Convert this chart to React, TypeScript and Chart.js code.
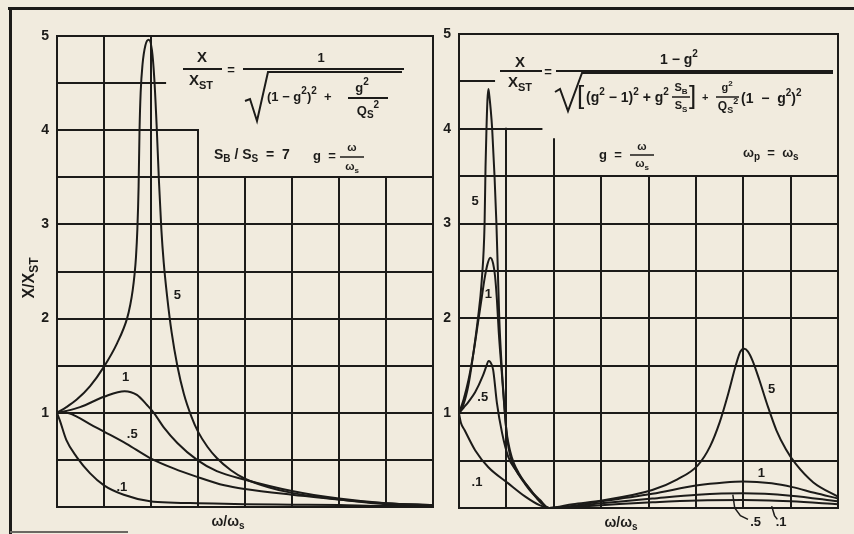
import { useEffect, useRef } from 'react';
import { Chart, registerables } from 'chart.js';

Chart.register(...registerables);

const INK = '#1c1b19';
const PAPER = '#f1ebde';
const FONT = '"Liberation Sans", "DejaVu Sans", sans-serif';

// Shared axes: g = ω/ωs along x (0..4), X/XST along y (0..5)
const xMin = 0;
const xMax = 4;
const yMin = 0;
const yMax = 5;
const yTickValues = [1, 2, 3, 4, 5];
const yTickLabels = ['1', '2', '3', '4', '5'];

// ---- Left panel: X/XST = 1 / sqrt((1-g²)² + g²/Qs²), one curve per Qs
const leftQ5G = [0, 0.1, 0.21, 0.35, 0.5, 0.64, 0.745, 0.78, 0.805, 0.825, 0.84, 0.855, 0.868, 0.878, 0.89, 0.91, 0.94, 0.975, 1.01, 1.035, 1.06, 1.085, 1.11, 1.135, 1.17, 1.22, 1.28, 1.35, 1.43, 1.5, 1.6, 1.7, 1.85, 2.0, 2.25, 2.5, 3.0, 3.5, 4.0];
const leftQ5V = [1, 1.06, 1.14, 1.28, 1.49, 1.74, 2.0, 2.15, 2.3, 2.47, 2.65, 2.95, 3.4, 4.0, 4.4, 4.7, 4.9, 4.96, 4.85, 4.55, 4.05, 3.45, 2.95, 2.6, 2.25, 1.85, 1.5, 1.2, 0.96, 0.8, 0.64, 0.52, 0.39, 0.3, 0.21, 0.15, 0.08, 0.04, 0.02];
const leftQ1G = [0, 0.1, 0.245, 0.5, 0.72, 0.85, 0.96, 1.03, 1.14, 1.28, 1.49, 1.7, 2.0, 2.5, 3.0, 3.5, 4.0];
const leftQ1V = [1, 1.02, 1.06, 1.17, 1.23, 1.19, 1.08, 1.0, 0.84, 0.68, 0.5, 0.38, 0.29, 0.17, 0.09, 0.04, 0.02];
const leftQ05G = [0, 0.1, 0.21, 0.35, 0.5, 0.74, 0.99, 1.24, 1.49, 1.78, 2.0, 2.5, 3.0, 3.5, 4.0];
const leftQ05V = [1, 1.0, 0.96, 0.88, 0.8, 0.67, 0.52, 0.41, 0.32, 0.23, 0.19, 0.13, 0.08, 0.03, 0.01];
const leftQ01G = [0, 0.03, 0.1, 0.21, 0.35, 0.5, 0.71, 0.99, 1.25, 1.5, 2.0, 2.5, 3.0, 3.5, 4.0];
const leftQ01V = [1, 0.92, 0.71, 0.53, 0.36, 0.23, 0.13, 0.06, 0.045, 0.04, 0.03, 0.025, 0.02, 0.01, 0.01];

// ---- Right panel: two-mass response with ωp = ωs, S_B/S_S = 7
const rightQ5G = [0, 0.05, 0.1, 0.14, 0.2, 0.24, 0.27, 0.28, 0.29, 0.3, 0.31, 0.32, 0.335, 0.35, 0.375, 0.395, 0.41, 0.425, 0.45, 0.47, 0.5, 0.54, 0.58, 0.63, 0.7, 0.77, 0.85, 0.95, 1.2, 1.51, 2.04, 2.3, 2.52, 2.65, 2.75, 2.84, 2.92, 2.97, 3.01, 3.05, 3.1, 3.17, 3.25, 3.35, 3.45, 3.55, 3.74, 4.0];
const rightQ5V = [1, 1.1, 1.3, 1.55, 2.0, 2.4, 3.0, 3.6, 4.0, 4.3, 4.42, 4.35, 4.2, 4.0, 3.5, 3.0, 2.5, 2.0, 1.5, 1.2, 0.82, 0.6, 0.47, 0.37, 0.26, 0.17, 0.09, 0, 0.04, 0.08, 0.19, 0.3, 0.45, 0.65, 0.9, 1.2, 1.5, 1.65, 1.68, 1.65, 1.55, 1.35, 1.1, 0.82, 0.62, 0.47, 0.27, 0.12];
const rightQ1G = [0, 0.05, 0.1, 0.15, 0.2, 0.24, 0.27, 0.3, 0.33, 0.36, 0.38, 0.4, 0.42, 0.45, 0.48, 0.51, 0.54, 0.58, 0.63, 0.7, 0.77, 0.85, 0.95, 1.5, 2.04, 2.52, 2.8, 3.0, 3.3, 3.52, 3.75, 4.0];
const rightQ1V = [1, 1.15, 1.35, 1.62, 1.95, 2.22, 2.42, 2.57, 2.64, 2.58, 2.45, 2.2, 1.85, 1.45, 1.05, 0.72, 0.55, 0.44, 0.35, 0.25, 0.16, 0.08, 0, 0.07, 0.15, 0.24, 0.27, 0.28, 0.26, 0.22, 0.16, 0.1];
const rightQ05G = [0, 0.05, 0.1, 0.17, 0.25, 0.29, 0.31, 0.33, 0.36, 0.4, 0.455, 0.52, 0.6, 0.67, 0.75, 0.84, 0.95, 1.5, 2.04, 2.52, 3.0, 3.5, 4.0];
const rightQ05V = [1, 1.06, 1.12, 1.22, 1.39, 1.5, 1.55, 1.54, 1.46, 1.11, 0.79, 0.54, 0.4, 0.3, 0.2, 0.08, 0, 0.05, 0.1, 0.14, 0.155, 0.13, 0.07];
const rightQ01G = [0, 0.02, 0.06, 0.17, 0.31, 0.52, 0.7, 0.85, 0.95, 1.5, 2.04, 2.52, 3.0, 3.5, 4.0];
const rightQ01V = [1, 0.9, 0.82, 0.61, 0.43, 0.26, 0.12, 0.03, 0, 0.03, 0.06, 0.08, 0.085, 0.07, 0.04];

// Grid layout in axis units: horizontal [y, xFrom, xTo], vertical [x, yFrom, yTo]
const leftGridH = [[0, 0, 4], [0.5, 0, 4], [1, 0, 4], [1.5, 0, 4], [2, 0, 4], [2.5, 0, 4], [3, 0, 4], [3.5, 0, 4], [4, 0, 1.5], [4.5, 0, 1.15], [5, 0, 4]];
const leftGridV = [[0, 0, 5], [0.5, 0, 5], [1, 0, 5], [1.5, 0, 4], [2, 0, 3.5], [2.5, 0, 3.5], [3, 0, 3.5], [3.5, 0, 3.5], [4, 0, 5]];
const rightGridH = [[0, 0, 4], [0.5, 0, 4], [1, 0, 4], [1.5, 0, 4], [2, 0, 4], [2.5, 0, 4], [3, 0, 4], [3.5, 0, 4], [4, 0, 0.87], [4.5, 0, 0.37], [5, 0, 4]];
const rightGridV = [[0, 0, 5], [0.5, 0, 4], [1, 0, 3.89], [1.5, 0, 3.5], [2, 0, 3.5], [2.5, 0, 3.5], [3, 0, 3.5], [3.5, 0, 3.5], [4, 0, 5]];

// Curve tags: text with anchor in axis units
const leftTagText = ['5', '1', '.5', '.1'];
const leftTagG = [1.28, 0.73, 0.8, 0.69];
const leftTagV = [2.25, 1.38, 0.77, 0.21];
const rightTagText = ['5', '1', '.5', '.1', '5', '1', '.5', '.1'];
const rightTagG = [0.17, 0.31, 0.25, 0.19, 3.3, 3.19, 3.13, 3.4];
const rightTagV = [3.23, 2.25, 1.17, 0.27, 1.25, 0.37, -0.15, -0.15];
// leader strokes from the lower tags to their curves
const rightLeaders = [
  [[2.89, 0.14], [2.91, 0.0], [2.97, -0.08], [3.05, -0.12]],
  [[3.3, 0.02], [3.33, -0.08], [3.36, -0.12]],
];

type Run = [string, number?];

function rich(ctx: CanvasRenderingContext2D, runs: Run[], x: number, y: number, size: number, align = 'left', weight = 'bold') {
  const fontFor = (m: number) => `${weight} ${m ? Math.round(size * 0.74) : size}px ${FONT}`;
  let w = 0;
  for (const [t, m = 0] of runs) {
    ctx.font = fontFor(m);
    w += ctx.measureText(t).width;
  }
  let cx = align === 'center' ? x - w / 2 : x;
  ctx.textAlign = 'left';
  ctx.textBaseline = 'middle';
  for (const [t, m = 0] of runs) {
    ctx.font = fontFor(m);
    const dy = m === 1 ? -size * 0.42 : m === 2 ? size * 0.32 : 0;
    ctx.fillText(t, cx, y + dy);
    cx += ctx.measureText(t).width;
  }
  return w;
}

function seg(ctx: CanvasRenderingContext2D, pts: number[][], width = 1.6) {
  ctx.lineWidth = width;
  ctx.beginPath();
  pts.forEach(([x, y], i) => (i ? ctx.lineTo(x, y) : ctx.moveTo(x, y)));
  ctx.stroke();
}

function drawLeftText(ctx: CanvasRenderingContext2D) {
  // X / XST = 1 / sqrt((1-g²)² + g²/Qs²)
  rich(ctx, [['X']], 202, 58, 15, 'center');
  seg(ctx, [[183, 69], [222, 69]], 2);
  rich(ctx, [['X'], ['ST', 2]], 201, 81, 15, 'center');
  rich(ctx, [['=']], 231, 70, 13, 'center');
  seg(ctx, [[243, 69], [404, 69]], 2.2);
  rich(ctx, [['1']], 321, 58, 13, 'center');
  seg(ctx, [[245, 101], [250, 99], [257, 121], [268, 72], [402, 72]], 2);
  rich(ctx, [['(1 − g'], ['2', 1], [')'], ['2', 1], ['  +']], 267, 97, 13);
  rich(ctx, [['g'], ['2', 1]], 362, 88, 13, 'center');
  seg(ctx, [[348, 98], [388, 98]], 1.8);
  rich(ctx, [['Q'], ['S', 2], ['2', 1]], 368, 111, 13, 'center');
  // SB/SS = 7   g = ω/ωs
  rich(ctx, [['S'], ['B', 2], [' / S'], ['S', 2], ['  =  7']], 214, 155, 14);
  rich(ctx, [['g  =']], 313, 156, 13);
  rich(ctx, [['ω']], 352, 148, 11, 'center');
  seg(ctx, [[340, 157], [364, 157]], 1.5);
  rich(ctx, [['ω'], ['s', 2]], 352, 167, 11, 'center');
}

function drawRightText(ctx: CanvasRenderingContext2D) {
  rich(ctx, [['X']], 83, 63, 15, 'center');
  seg(ctx, [[63, 71], [105, 71]], 2);
  rich(ctx, [['X'], ['ST', 2]], 83, 83, 15, 'center');
  rich(ctx, [['=']], 111, 72, 13, 'center');
  seg(ctx, [[119, 71], [396, 71]], 2.2);
  rich(ctx, [['1 − g'], ['2', 1]], 242, 60, 14, 'center');
  seg(ctx, [[118, 92], [123, 89], [131, 111], [145, 73], [396, 73]], 2);
  rich(ctx, [['[']], 140, 97, 26, 'left', 'normal');
  rich(ctx, [['(g'], ['2', 1], [' − 1)'], ['2', 1], [' + g'], ['2', 1]], 149, 98, 14);
  rich(ctx, [['S'], ['B', 2]], 244, 88, 11, 'center');
  seg(ctx, [[235, 97], [253, 97]], 1.5);
  rich(ctx, [['S'], ['S', 2]], 244, 106, 11, 'center');
  rich(ctx, [[']']], 252, 97, 26, 'left', 'normal');
  rich(ctx, [['+']], 265, 98, 11);
  rich(ctx, [['g'], ['2', 1]], 290, 88, 11, 'center');
  seg(ctx, [[279, 97], [302, 97]], 1.5);
  rich(ctx, [['Q'], ['S', 2], ['2', 1]], 291, 107, 12, 'center');
  rich(ctx, [['(1  −  g'], ['2', 1], [')'], ['2', 1]], 304, 99, 14);
  // g = ω/ωs    ωp = ωs
  rich(ctx, [['g  =']], 162, 155, 13);
  rich(ctx, [['ω']], 205, 147, 11, 'center');
  seg(ctx, [[193, 155], [217, 155]], 1.5);
  rich(ctx, [['ω'], ['s', 2]], 205, 164, 11, 'center');
  rich(ctx, [['ω'], ['p', 2], ['  =  ω'], ['s', 2]], 306, 153, 13);
}

interface PanelSpec {
  gridH: number[][];
  gridV: number[][];
  tagText: string[];
  tagG: number[];
  tagV: number[];
  leaders: number[][][];
  titleX: number;
  showYTitle: boolean;
  formula: (ctx: CanvasRenderingContext2D) => void;
}

function panelPlugin(spec: PanelSpec) {
  return {
    id: 'panelArt',
    beforeDatasetsDraw(chart: any) {
      const { ctx } = chart;
      const xs = chart.scales.x;
      const ys = chart.scales.y;
      ctx.save();
      ctx.strokeStyle = INK;
      ctx.lineWidth = 2;
      ctx.lineCap = 'square';
      for (const [y, a, b] of spec.gridH) {
        const py = Math.round(ys.getPixelForValue(y));
        ctx.beginPath();
        ctx.moveTo(xs.getPixelForValue(a), py);
        ctx.lineTo(xs.getPixelForValue(b), py);
        ctx.stroke();
      }
      for (const [x, a, b] of spec.gridV) {
        const px = Math.round(xs.getPixelForValue(x));
        ctx.beginPath();
        ctx.moveTo(px, ys.getPixelForValue(a));
        ctx.lineTo(px, ys.getPixelForValue(b));
        ctx.stroke();
      }
      ctx.restore();
    },
    afterDatasetsDraw(chart: any) {
      const { ctx, chartArea } = chart;
      const xs = chart.scales.x;
      const ys = chart.scales.y;
      ctx.save();
      ctx.fillStyle = INK;
      ctx.strokeStyle = INK;
      spec.tagText.forEach((t, i) => {
        rich(ctx, [[t]], xs.getPixelForValue(spec.tagG[i]), ys.getPixelForValue(spec.tagV[i]), 13, 'center');
      });
      for (const path of spec.leaders) {
        seg(ctx, path.map(([g, v]) => [xs.getPixelForValue(g), ys.getPixelForValue(v)]), 1.5);
      }
      // axis title under the plot
      rich(ctx, [['ω/ω'], ['s', 2]], spec.titleX, chartArea.bottom + 15, 14, 'center');
      if (spec.showYTitle) {
        ctx.save();
        ctx.translate(30, 278);
        ctx.rotate(-Math.PI / 2);
        rich(ctx, [['X/X'], ['ST', 2]], 0, 0, 16, 'center');
        ctx.restore();
      }
      spec.formula(ctx);
      ctx.restore();
    },
  };
}

function pts(g: number[], v: number[]) {
  return g.map((x, i) => ({ x, y: v[i] }));
}

function curve(g: number[], v: number[]) {
  return {
    data: pts(g, v),
    borderColor: INK,
    borderWidth: 2,
    pointRadius: 0,
    fill: false,
    cubicInterpolationMode: 'monotone',
  };
}

function makeConfig(datasets: any[], spec: PanelSpec, axisWidth: number, padding: any) {
  return {
    type: 'line',
    data: { datasets },
    options: {
      animation: false,
      responsive: false,
      events: [],
      layout: { padding },
      plugins: { legend: { display: false }, tooltip: { enabled: false } },
      scales: {
        x: { type: 'linear', min: xMin, max: xMax, display: false },
        y: {
          type: 'linear',
          min: yMin,
          max: yMax,
          position: 'left',
          grid: { display: false, drawTicks: false },
          border: { display: false },
          afterBuildTicks: (s: any) => {
            s.ticks = yTickValues.map((value) => ({ value }));
          },
          afterFit: (s: any) => {
            s.width = axisWidth;
          },
          ticks: {
            color: INK,
            padding: 8,
            font: { family: FONT, size: 14, weight: 'bold' },
            callback: (v: number) => yTickLabels[yTickValues.indexOf(v)] ?? '',
          },
        },
      },
    },
    plugins: [panelPlugin(spec)],
  };
}

const leftSpec: PanelSpec = {
  gridH: leftGridH,
  gridV: leftGridV,
  tagText: leftTagText,
  tagG: leftTagG,
  tagV: leftTagV,
  leaders: [],
  titleX: 228,
  showYTitle: true,
  formula: drawLeftText,
};

const rightSpec: PanelSpec = {
  gridH: rightGridH,
  gridV: rightGridV,
  tagText: rightTagText,
  tagG: rightTagG,
  tagV: rightTagV,
  leaders: rightLeaders,
  titleX: 184,
  showYTitle: false,
  formula: drawRightText,
};

export default function App() {
  const leftRef = useRef<HTMLCanvasElement>(null);
  const rightRef = useRef<HTMLCanvasElement>(null);

  useEffect(() => {
    const left = new Chart(
      leftRef.current as HTMLCanvasElement,
      makeConfig(
        [curve(leftQ5G, leftQ5V), curve(leftQ1G, leftQ1V), curve(leftQ05G, leftQ05V), curve(leftQ01G, leftQ01V)],
        leftSpec,
        57,
        { left: 0, right: 4, top: 36, bottom: 27 },
      ) as any,
    );
    const right = new Chart(
      rightRef.current as HTMLCanvasElement,
      makeConfig(
        [curve(rightQ5G, rightQ5V), curve(rightQ1G, rightQ1V), curve(rightQ05G, rightQ05V), curve(rightQ01G, rightQ01V)],
        rightSpec,
        22,
        { left: 0, right: 16, top: 34, bottom: 26 },
      ) as any,
    );
    return () => {
      left.destroy();
      right.destroy();
    };
  }, []);

  return (
    <div style={{ position: 'absolute', left: 0, top: 0, width: 854, height: 534, background: PAPER, overflow: 'hidden' }}>
      <canvas ref={leftRef} width={437} height={534} style={{ position: 'absolute', left: 0, top: 0, width: 437, height: 534 }} />
      <canvas ref={rightRef} width={417} height={534} style={{ position: 'absolute', left: 437, top: 0, width: 417, height: 534 }} />
      <div style={{ position: 'absolute', left: 8, top: 7, width: 846, height: 3, background: INK }} />
      <div style={{ position: 'absolute', left: 9, top: 7, width: 3, height: 527, background: INK }} />
      <div style={{ position: 'absolute', left: 10, top: 531, width: 118, height: 2, background: '#6b6862' }} />
    </div>
  );
}
